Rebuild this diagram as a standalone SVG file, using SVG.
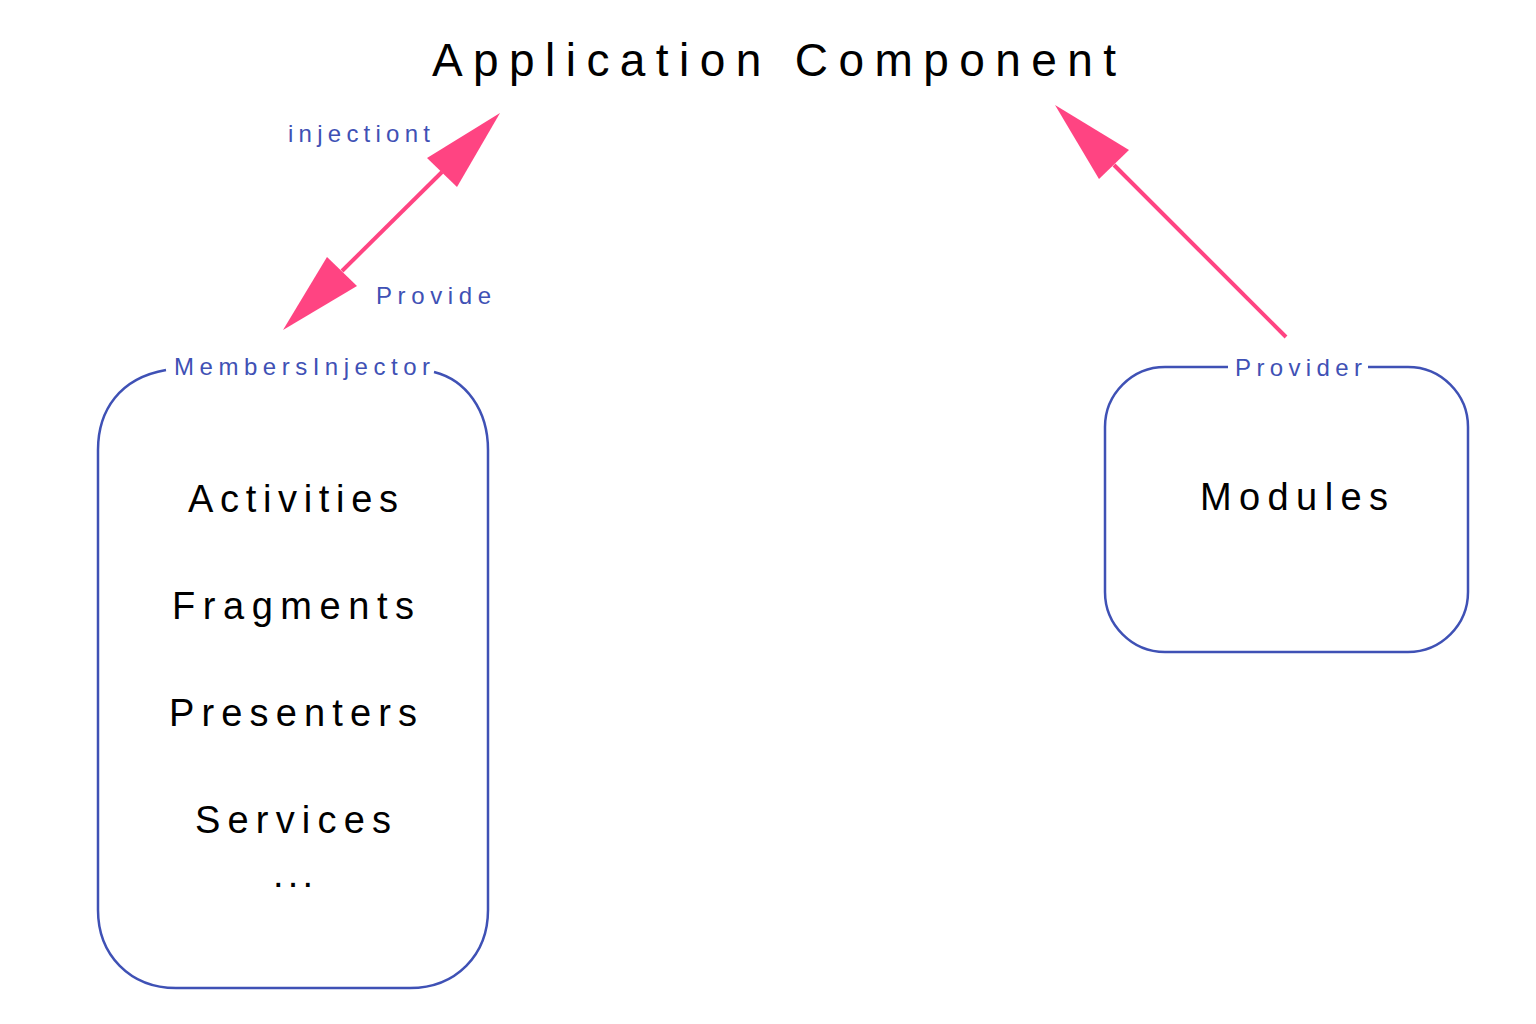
<svg xmlns="http://www.w3.org/2000/svg" width="1536" height="1024" viewBox="0 0 1536 1024">
<defs>
<style>
.box{fill:none;stroke:#3f51b5;stroke-width:2.5}
.lbl{font-family:"Liberation Sans",Arial,sans-serif;font-size:24px;fill:#3f51b5}
.txt{font-family:"Liberation Sans",Arial,sans-serif;font-size:38px;fill:#000;text-anchor:middle}
.title{font-family:"Liberation Sans",Arial,sans-serif;font-size:46px;fill:#000}
.edge{stroke:#ff4482;stroke-width:4;fill:none}
.head{fill:#ff4482}
</style>
</defs>
<rect width="1536" height="1024" fill="#fff"/>
<g id="title">
<text class="title" x="432" y="76" textLength="684" lengthAdjust="spacing">Application Component</text>
</g>
<g id="connectors">
<line class="edge" x1="442" y1="172" x2="342" y2="271"/>
<polygon class="head" points="500,113 427,158 457,187"/>
<polygon class="head" points="283,330 327,257 357,286"/>
<line class="edge" x1="1286" y1="337" x2="1114" y2="165"/>
<polygon class="head" points="1055,105 1129,150 1099,179"/>
<text class="lbl" x="288" y="142" textLength="142" lengthAdjust="spacing">injectiont</text>
<text class="lbl" x="376" y="304" textLength="115" lengthAdjust="spacing">Provide</text>
</g>
<g id="members-injector">
<path class="box" d="M166,370 C120,378 98,410 98,450 L98,910 C98,955 130,988 176,988 L410,988 C456,988 488,955 488,910 L488,450 C488,410 466,380 434,372"/>
<text class="lbl" x="174" y="375" textLength="256" lengthAdjust="spacing">MembersInjector</text>
<text class="txt" x="293" y="512" textLength="210" lengthAdjust="spacing">Activities</text>
<text class="txt" x="293" y="619" textLength="242" lengthAdjust="spacing">Fragments</text>
<text class="txt" x="293" y="726" textLength="248" lengthAdjust="spacing">Presenters</text>
<text class="txt" x="293" y="833" textLength="196" lengthAdjust="spacing">Services</text>
<text class="txt" x="293" y="887" textLength="40" lengthAdjust="spacing">...</text>
</g>
<g id="provider">
<path class="box" d="M1228,367 L1165,367 C1132,367 1105,394 1105,427 L1105,592 C1105,625 1132,652 1165,652 L1408,652 C1441,652 1468,625 1468,592 L1468,427 C1468,394 1441,367 1408,367 L1368,367"/>
<text class="lbl" x="1235" y="376" textLength="127" lengthAdjust="spacing">Provider</text>
<text class="txt" x="1294" y="510" textLength="188" lengthAdjust="spacing">Modules</text>
</g>
</svg>
